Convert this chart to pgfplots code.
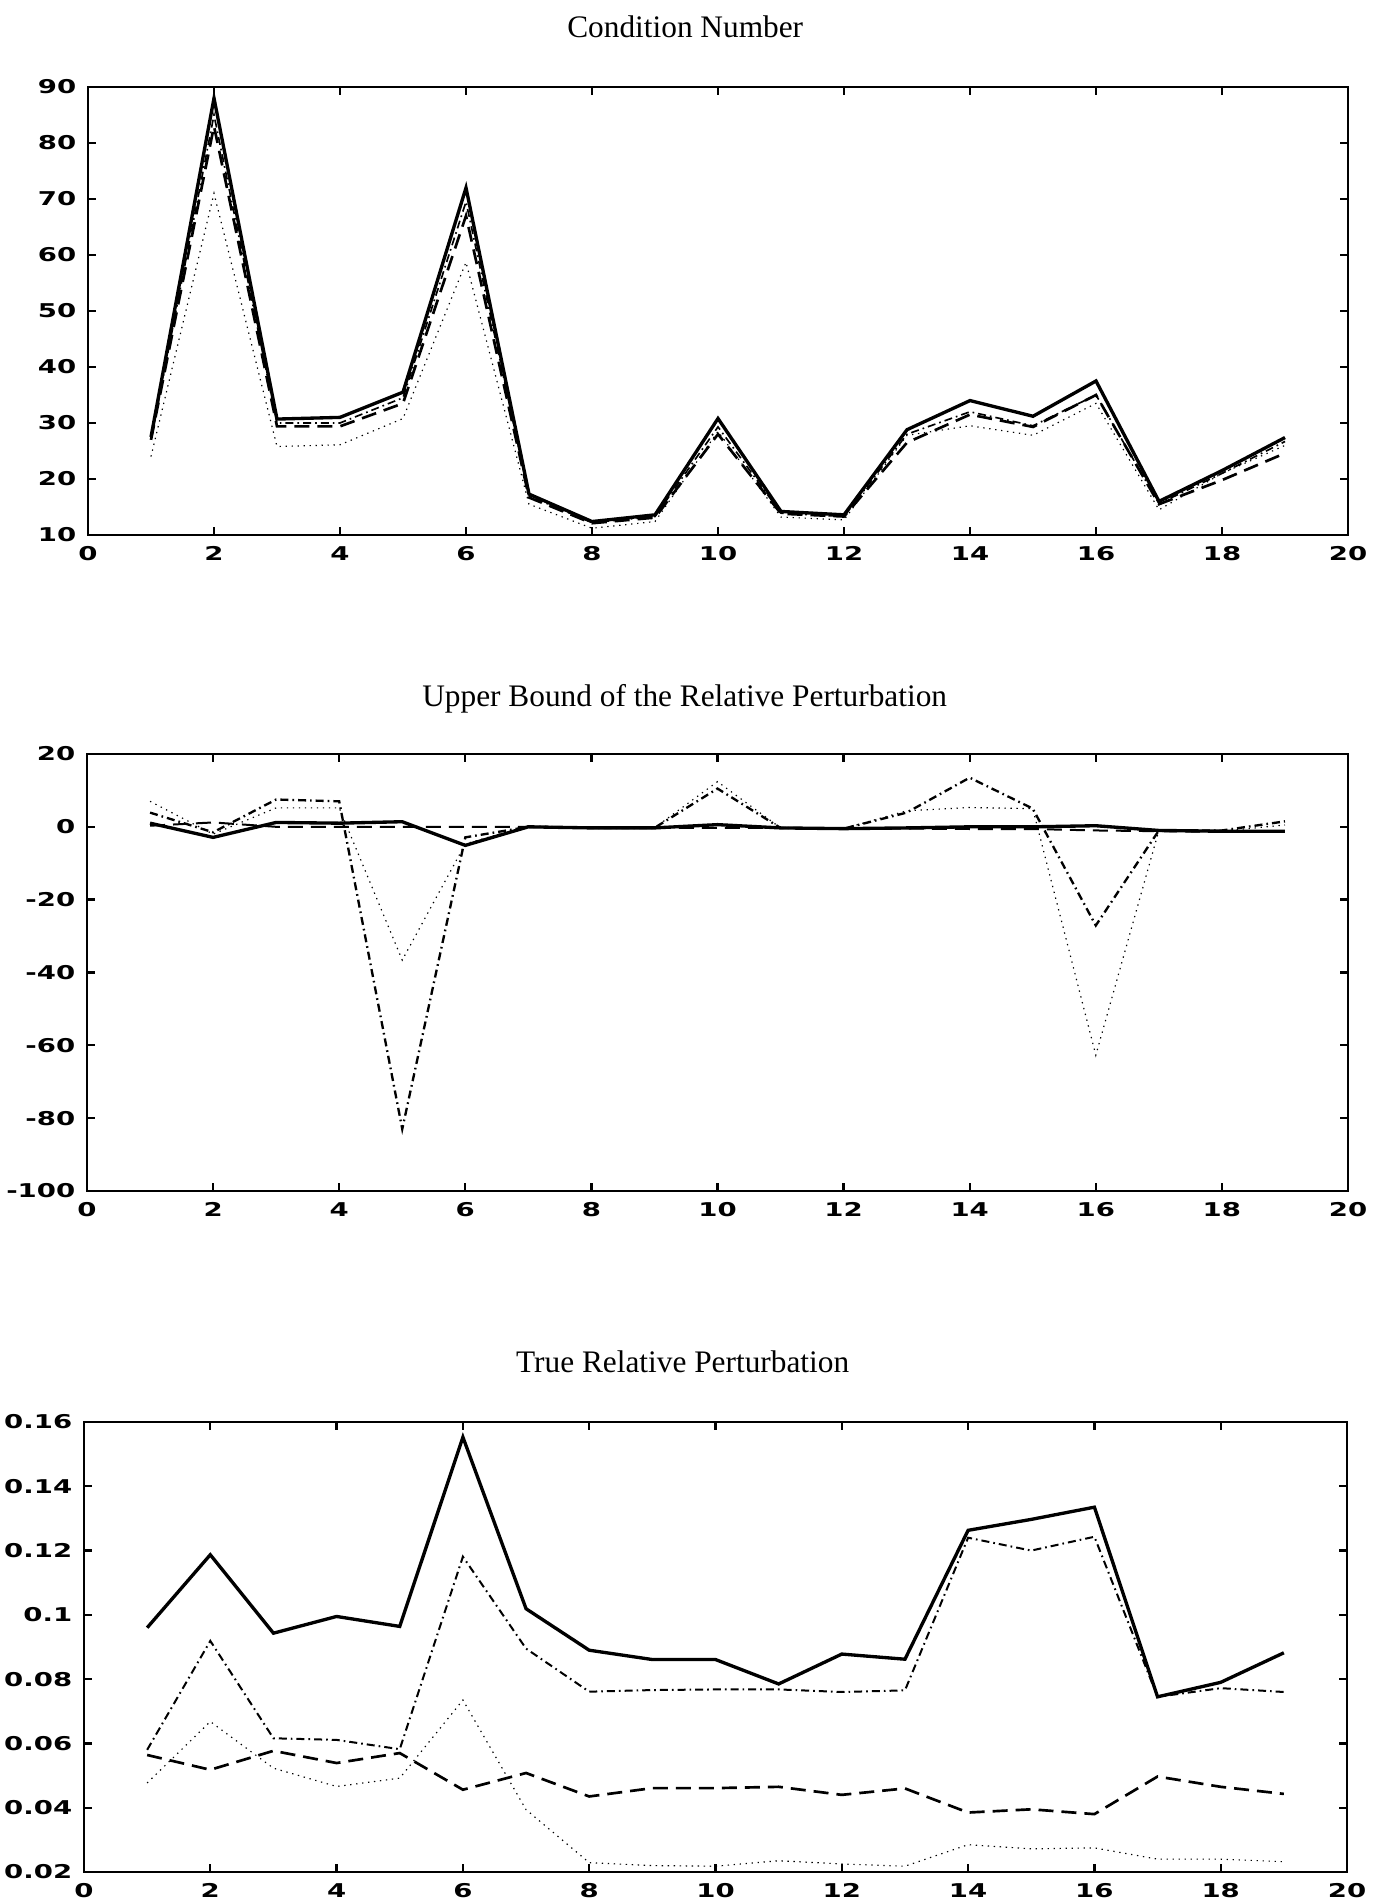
\documentclass[border=0pt]{standalone}
\usepackage{fontspec}
\setmainfont{Liberation Serif}
\newfontfamily\tickfont{DejaVu Sans}[FakeStretch=1.45]
\usepackage{pgfplots}
\usepackage{pgfplotstable}
\pgfplotsset{compat=1.18}

% columns: solid, dash-dot, dashed, dotted
\pgfplotstableread{
x  s     dd    da    dt
1  27.5  27.0  27.0  24.0
2  88.0  85.0  83.0  71.0
3  30.7  30.0  29.4  25.8
4  31.0  30.0  29.4  26.1
5  35.5  34.5  33.5  30.8
6  72.0  69.5  67.0  58.7
7  17.3  17.0  16.7  15.5
8  12.4  12.2  12.1  11.2
9  13.6  13.3  13.1  12.4
10 30.8  29.3  28.0  28.5
11 14.2  13.9  13.8  13.2
12 13.6  13.3  13.3  12.7
13 28.8  28.0  26.5  27.8
14 34.0  32.0  31.5  29.5
15 31.2  29.5  29.3  27.8
16 37.5  35.0  35.0  33.5
17 16.0  15.6  15.5  14.5
18 21.5  21.0  19.8  21.0
19 27.4  26.7  24.6  26.0
}\condnum

\pgfplotstableread{
x  s     dd     da    dt
1  1.0   3.9    0.3   7.0
2  -2.9  -1.5   1.2   -2.0
3  1.2   7.5    0.0   5.2
4  1.0   7.0    0.0   5.2
5  1.4   -83.0  0.0   -36.6
6  -5.1  -2.9   0.0   -4.7
7  0.0   0.0    0.0   0.3
8  -0.3  -0.3   -0.3  -0.3
9  -0.3  -0.3   -0.3  -0.3
10 0.6   10.5   -0.3  12.4
11 -0.3  -0.3   -0.3  -0.3
12 -0.5  -0.5   -0.5  -0.5
13 -0.3  3.9    -0.5  4.4
14 0.0   13.5   -0.6  5.3
15 0.0   5.0    -0.6  5.0
16 0.3   -27.1  -1.0  -62.7
17 -1.0  -1.0   -1.2  -1.0
18 -1.2  -1.0   -1.4  -1.2
19 -1.2  1.5    -1.4  0.5
}\upperbound

\pgfplotstableread{
x  s       dd      da      dt
1  0.0960  0.0580  0.0564  0.0477
2  0.1187  0.0919  0.0518  0.0668
3  0.0943  0.0616  0.0577  0.0523
4  0.0995  0.0611  0.0539  0.0466
5  0.0964  0.0582  0.0570  0.0492
6  0.1553  0.1181  0.0456  0.0735
7  0.1019  0.0895  0.0508  0.0394
8  0.0890  0.0761  0.0435  0.0229
9  0.0861  0.0766  0.0461  0.0220
10 0.0861  0.0768  0.0461  0.0218
11 0.0785  0.0768  0.0465  0.0235
12 0.0878  0.0760  0.0440  0.0225
13 0.0862  0.0765  0.0460  0.0218
14 0.1263  0.1240  0.0385  0.0285
15 0.1297  0.1200  0.0395  0.0272
16 0.1335  0.1243  0.0380  0.0275
17 0.0745  0.0745  0.0497  0.0240
18 0.0790  0.0772  0.0465  0.0240
19 0.0882  0.0760  0.0443  0.0232
}\truepert

\pgfplotsset{
  panel/.style={
    scale only axis,
    anchor=south west,
    xmin=0, xmax=20, xtick={0,2,...,20},
    axis line style={line width=0.8pt},
    major tick length=2.5pt,
    tick style={line width=0.7pt, black},
    tick label style={font=\tickfont\bfseries\fontsize{5.7}{6}\selectfont},
    /pgf/number format/assume math mode=true,
    title style={font=\fontsize{9.4}{11}\selectfont, anchor=center, at={(0.474,1)}},
  },
  solidln/.style={black, line width=1pt},
  dashedln/.style={black, line width=0.8pt, dash pattern=on 4.5pt off 2.4pt},
  dashdotln/.style={black, line width=0.5pt, dash pattern=on 2.4pt off 1.2pt on 0.5pt off 1.2pt},
  dottedln/.style={black, line width=0.35pt, dash pattern=on 0.4pt off 1.4pt},
}

\begin{document}
\begin{tikzpicture}
\path[use as bounding box] (0,0) rectangle (415.8pt,570pt);

% Condition number
\begin{axis}[panel, at={(26.4pt,409.5pt)}, width=378pt, height=134.4pt,
  ymin=10, ymax=90, ytick={10,20,...,90},
  title={Condition Number}, title style={yshift=12pt}]
  \addplot[dottedln]  table[y=dt] {\condnum};
  \addplot[dashdotln] table[y=dd] {\condnum};
  \addplot[dashedln]  table[y=da] {\condnum};
  \addplot[solidln]   table[y=s]  {\condnum};
\end{axis}

% Upper bound of the relative perturbation
\begin{axis}[panel, at={(26.1pt,212.7pt)}, width=378.3pt, height=131.1pt,
  ymin=-100, ymax=20, ytick={-100,-80,...,20},
  title={Upper Bound of the Relative Perturbation}, title style={yshift=10.5pt}]
  \addplot[dottedln]  table[y=dt] {\upperbound};
  \addplot[dashdotln, line width=0.7pt] table[y=dd] {\upperbound};
  \addplot[dashedln, line width=0.6pt]  table[y=da] {\upperbound};
  \addplot[solidln]   table[y=s]  {\upperbound};
\end{axis}

% True relative perturbation
\begin{axis}[panel, at={(25.2pt,8.4pt)}, width=378.9pt, height=135pt,
  ymin=0.02, ymax=0.16, ytick={0.02,0.04,...,0.16},
  scaled y ticks=false,
  yticklabel style={/pgf/number format/fixed, /pgf/number format/precision=2},
  title={True Relative Perturbation}, title style={yshift=12pt}]
  \addplot[dottedln]  table[y=dt] {\truepert};
  \addplot[dashdotln, line width=0.6pt] table[y=dd] {\truepert};
  \addplot[dashedln]  table[y=da] {\truepert};
  \addplot[solidln]   table[y=s]  {\truepert};
\end{axis}
\end{tikzpicture}
\end{document}
